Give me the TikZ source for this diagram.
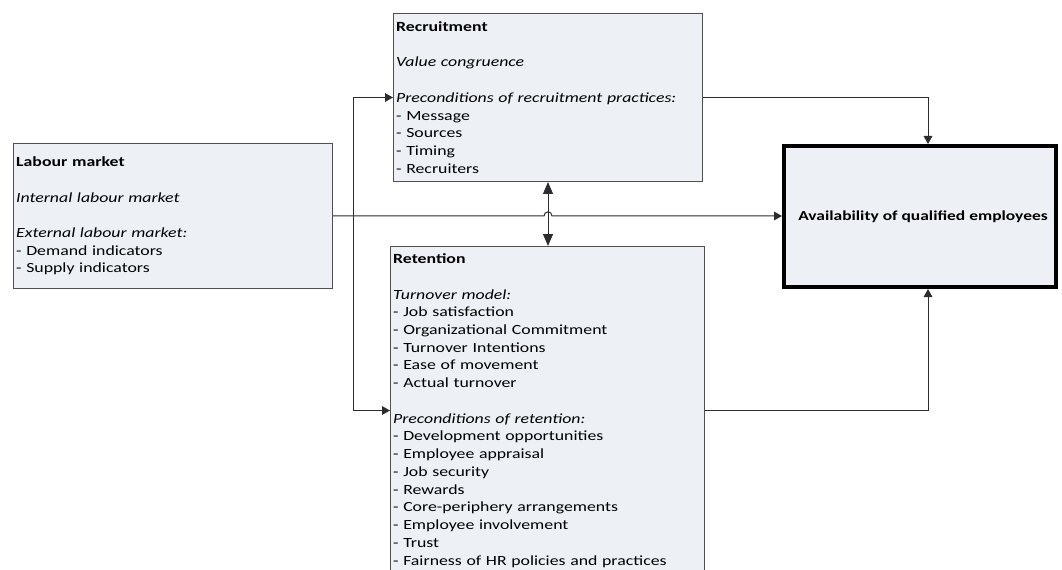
\documentclass[tikz,border=0pt]{standalone}
\usepackage{fontspec}
\setmainfont{Carlito}[FakeStretch=1.27]
\usetikzlibrary{arrows.meta,calc}
\definecolor{boxfill}{RGB}{237,240,245}
\definecolor{boxline}{RGB}{80,80,80}
\definecolor{connline}{RGB}{45,45,45}
\begin{document}
\begin{tikzpicture}[x=0.75pt,y=-0.75pt,
  box/.style={draw=boxline, line width=0.75pt, fill=boxfill, rectangle, anchor=north west,
    inner xsep=2pt, inner ysep=0pt, align=left, font=\fontsize{10.5}{13.3}\selectfont},
  bigbox/.style={draw=black, line width=3pt, fill=boxfill, rectangle, anchor=north west,
    inner sep=0pt},
  conn/.style={draw=connline, line width=0.75pt},
  tip/.style={-{Triangle[length=6pt,width=6.5pt]}},
  dtip/.style={{Triangle[length=9pt,width=7.5pt]}-{Triangle[length=9pt,width=7.5pt]}}
]
\useasboundingbox (0,0) rectangle (1062,570);
\clip (0,0) rectangle (1062,570);

\node[box, text width=235.25pt, minimum height=108.75pt] (lab) at (13,143)
  {\textbf{Labour market}\\[\baselineskip]
   \textit{Internal labour market}\\[\baselineskip]
   \textit{External labour market:}\\
   - Demand indicators\\
   - Supply indicators};

\node[box, text width=227.75pt, minimum height=126pt] (rec) at (393,13)
  {\textbf{Recruitment}\\[\baselineskip]
   \textit{Value congruence}\\[\baselineskip]
   \textit{Preconditions of recruitment practices:}\\
   - Message\\
   - Sources\\
   - Timing\\
   - Recruiters};

\node[box, text width=231.5pt, minimum height=246pt] (ret) at (390,246)
  {\textbf{Retention}\\[\baselineskip]
   \textit{Turnover model:}\\
   - Job satisfaction\\
   - Organizational Commitment\\
   - Turnover Intentions\\
   - Ease of movement\\
   - Actual turnover\\[\baselineskip]
   \textit{Preconditions of retention:}\\
   - Development opportunities\\
   - Employee appraisal\\
   - Job security\\
   - Rewards\\
   - Core-periphery arrangements\\
   - Employee involvement\\
   - Trust\\
   - Fairness of HR policies and practices};

\node[bigbox, minimum width=204pt, minimum height=105.75pt] (avail) at (782,144) {};
\node[font=\fontsize{10.3}{13.3}\selectfont\bfseries] (avtext) at (923,217)
  {Availability of qualified employees};

% labour market -> availability with hop
\coordinate (hop) at (rec.south |- lab.east);
\draw[conn, tip] (lab.east) -- ($(hop)+(-4,0)$)
  .. controls ($(hop)+(-4,-5.5)$) and ($(hop)+(4,-5.5)$) .. ($(hop)+(4,0)$)
  -- (lab.east -| avail.west);

% branch to recruitment and retention
\coordinate (j) at (353,0 |- lab.east);
\draw[conn, tip] (j) |- (rec.west);
\draw[conn, tip] (j) |- (ret.west);

% recruitment <-> retention
\draw[conn, dtip] (rec.south) -- (rec.south |- ret.north);

% to availability
\coordinate (atop) at ($(avail.north)+(8,0)$);
\coordinate (abot) at ($(avail.south)+(8,0)$);
\draw[conn, tip] (rec.east) -| (atop);
\draw[conn, tip] (ret.east) -| (abot);
\end{tikzpicture}
\end{document}
